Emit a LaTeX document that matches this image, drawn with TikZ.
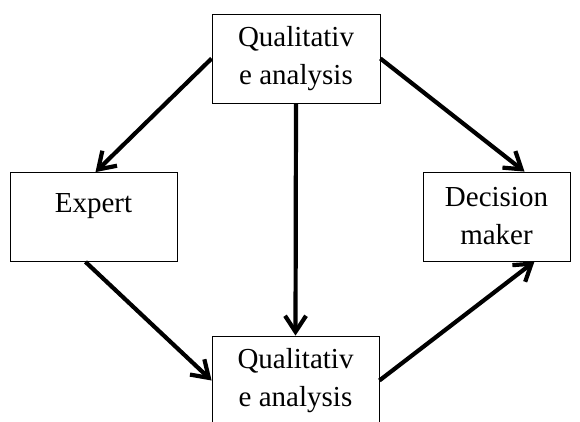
\documentclass[tikz,border=0pt]{standalone}
\usepackage{fontspec}
\setmainfont{Liberation Serif}
\usepackage{tikz}
\usetikzlibrary{positioning,arrows,arrows.meta}

\begin{document}
\begin{tikzpicture}[x=1pt,y=1pt]
\tikzstyle{blk}=[draw, line width=0.8pt, minimum height=89pt, align=center, inner sep=0pt,
  font=\fontsize{29}{38}\selectfont]
\tikzset{arrw/.style={-{Straight Barb[length=16pt,width=21pt]}, line width=4.2pt}}
\useasboundingbox (0,0) rectangle (580,421);
\node[blk, minimum width=168pt] (qtop) at (296,362.5){Qualitativ\\e analysis};
\node[blk, minimum width=167pt, text height=20pt, text depth=30pt] (expert) at (93.5,204){Expert};
\node[blk, minimum width=147pt] (dm) at (496.5,204.5){Decision\\maker};
\node[blk, minimum width=167pt] (qbot) at (295.5,40.5){Qualitativ\\e analysis};
\draw[arrw] (qtop.west) -- ([xshift=2pt]expert.north);
\draw[arrw] (qtop.east) -- ([xshift=28pt]dm.north);
\draw[arrw] (qtop.south) -- (qbot.north);
\draw[arrw] ([xshift=-8pt]expert.south) -- (qbot.west);
\draw[arrw] (qbot.east) -- ([xshift=38pt]dm.south);
\end{tikzpicture}
\end{document}
